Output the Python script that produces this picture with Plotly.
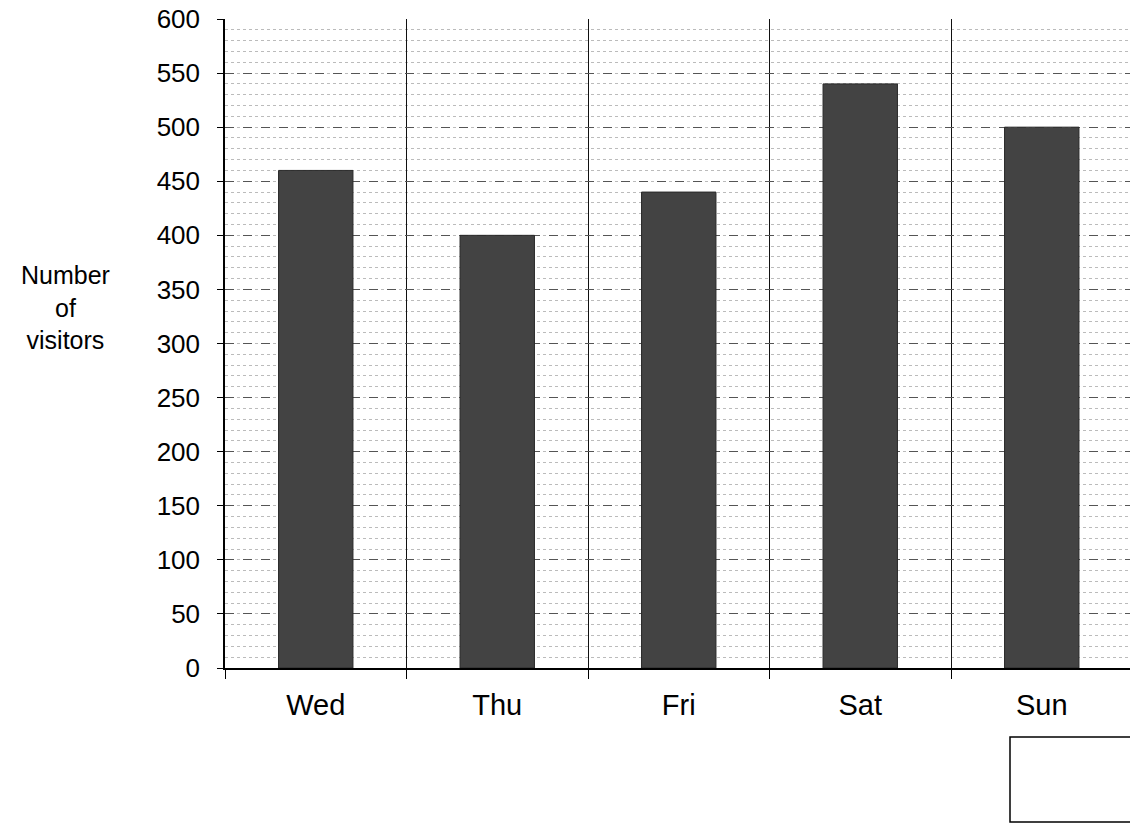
import plotly.graph_objects as go

days = ["Wed", "Thu", "Fri", "Sat", "Sun"]
visitors = [460, 400, 440, 540, 500]
y_ticks = list(range(0, 601, 50))
y_title = "Number<br>of<br>visitors"

fig = go.Figure()
fig.add_trace(go.Bar(
    x=days, y=visitors,
    marker=dict(color="#434343", line=dict(color="#2a2a2a", width=1)),
    width=0.41,
))

W, H = 1130, 823
L, R, T, B = 225, 0, 19, 155
PW, PH = W - L - R, H - T - B
CAT_PX = 181.5


def px(sx):  # screen x -> paper
    return (sx - L) / PW


def py(sy):  # screen y -> paper
    return (H - B - sy) / PH


fig.update_layout(
    width=W, height=H,
    margin=dict(l=L, r=R, t=T, b=B, pad=0, autoexpand=False),
    paper_bgcolor="white", plot_bgcolor="white",
    showlegend=False,
    font=dict(family="Liberation Sans, Arial, sans-serif", size=26, color="black"),
    bargap=0.59,
)
fig.update_xaxes(
    range=[-0.5, -0.5 + PW / CAT_PX],
    automargin=False,
    tickson="boundaries",
    showgrid=True, gridcolor="#111", gridwidth=1,
    ticks="outside", ticklen=9, tickcolor="black",
    showline=True, linecolor="black", linewidth=1.5,
    tickfont=dict(size=29),
    ticklabelstandoff=10,
)
fig.update_yaxes(
    range=[0, 600],
    automargin=False,
    tickvals=y_ticks,
    ticks="outside", ticklen=6, tickcolor="black",
    showline=True, linecolor="black", linewidth=1.5,
    showgrid=True, gridcolor="#555", gridwidth=1, griddash="dash",
    minor=dict(dtick=10, showgrid=True, gridcolor="#bbbbbb", griddash="dot", gridwidth=1),
    tickfont=dict(size=26),
    ticklabelstandoff=12,
    ticklabeloverflow="allow",
    zeroline=False,
)

fig.add_annotation(
    text=y_title, xref="paper", yref="paper",
    x=px(65), y=py(307),
    showarrow=False, font=dict(size=25), align="center",
    xanchor="center", yanchor="middle",
)

fig.add_shape(
    type="rect", xref="paper", yref="paper",
    x0=px(1010), x1=px(1140),
    y0=py(822), y1=py(737),
    line=dict(color="black", width=1.5), fillcolor="white",
)

fig.write_html(
    "out.html",
    config={"displayModeBar": False},
    post_script="document.body.style.margin='0';document.body.style.overflow='hidden';",
)
